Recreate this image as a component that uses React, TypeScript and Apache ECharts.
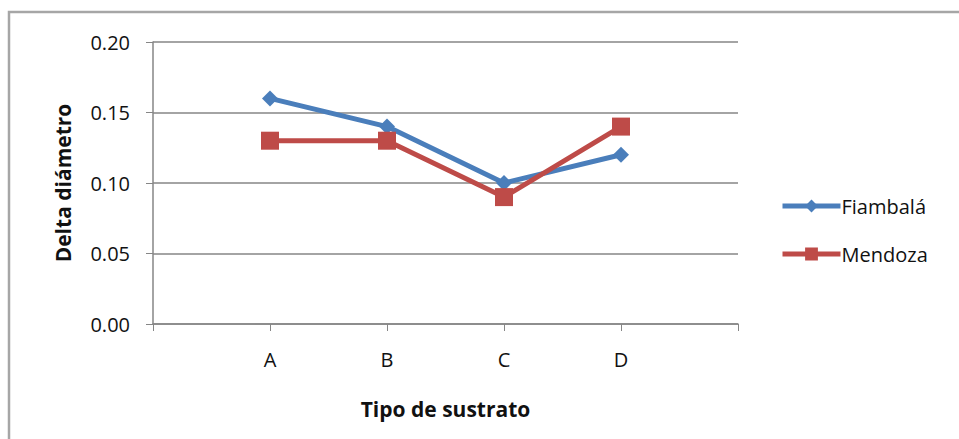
import React, { useEffect, useRef } from "react";
import * as echarts from "echarts";

const categories = ["A", "B", "C", "D"];
const fiambala = [0.16, 0.14, 0.1, 0.12];
const mendoza = [0.13, 0.13, 0.09, 0.14];
const yTicks = [0, 0.05, 0.1, 0.15, 0.2];

const FONT = "'Open Sans', Lato, sans-serif";

// Excel leaves an empty slot on each side of the categories
const axisData = ["", ...categories, ""];
const pad = (vals: number[]) => [null, ...vals, null];

const App: React.FC = () => {
  const chartRef = useRef<HTMLDivElement | null>(null);

  useEffect(() => {
    if (!chartRef.current) return;
    const chart = echarts.init(chartRef.current, undefined, { renderer: "svg" });
    chart.setOption({
      animation: false,
      backgroundColor: "#fff",
      textStyle: { fontFamily: FONT },
      graphic: [
        {
          type: "rect",
          shape: { x: 9, y: 12, width: 1000, height: 500 },
          style: { fill: "none", stroke: "#a6a6a6", lineWidth: 2.5 },
          silent: true,
        },
      ],
      grid: { left: 153, top: 42, right: 221, bottom: 115 },
      xAxis: {
        type: "category",
        boundaryGap: false,
        data: axisData,
        name: "Tipo de sustrato",
        nameLocation: "middle",
        nameGap: 74,
        nameTextStyle: { fontSize: 21, fontWeight: "bold", color: "#111", fontFamily: FONT },
        axisLine: { lineStyle: { color: "#868686", width: 1.5 } },
        axisTick: { show: true, inside: false, length: 7, alignWithLabel: true, interval: 0, lineStyle: { color: "#868686" } },
        axisLabel: { fontSize: 20, color: "#111", margin: 25, interval: 0 },
        splitLine: { show: false },
      },
      yAxis: {
        type: "value",
        min: yTicks[0],
        max: yTicks[yTicks.length - 1],
        interval: 0.05,
        name: "Delta diámetro",
        nameLocation: "middle",
        nameGap: 80,
        nameTextStyle: { fontSize: 21, fontWeight: "bold", color: "#111", fontFamily: FONT },
        axisLine: { show: true, lineStyle: { color: "#868686", width: 1.5 } },
        axisTick: { show: true, length: 7, lineStyle: { color: "#868686" } },
        axisLabel: { fontSize: 20, color: "#111", margin: 23, formatter: (v: number) => v.toFixed(2) },
        splitLine: { show: true, lineStyle: { color: "#868686", width: 1.5 } },
      },
      legend: {
        orient: "vertical",
        left: 775,
        top: 191,
        itemWidth: 58,
        itemHeight: 16,
        itemGap: 28,
        lineStyle: { width: 5 },
        textStyle: { fontSize: 20, color: "#111", fontFamily: FONT, padding: [0, 0, 0, -4] },
        data: ["Fiambalá", "Mendoza"],
      },
      series: [
        {
          name: "Fiambalá",
          type: "line",
          data: pad(fiambala),
          symbol: "diamond",
          symbolSize: 16,
          lineStyle: { color: "#4a7ebb", width: 5 },
          itemStyle: { color: "#4a7ebb" },
        },
        {
          name: "Mendoza",
          type: "line",
          data: pad(mendoza),
          symbol: "rect",
          symbolSize: 18,
          lineStyle: { color: "#be4b48", width: 5 },
          itemStyle: { color: "#be4b48" },
        },
      ],
    });
    return () => chart.dispose();
  }, []);

  return (
    <div style={{ position: "absolute", left: 0, top: 0, width: 959, height: 439, background: "#fff" }}>
      <div ref={chartRef} style={{ width: 959, height: 439 }} />
    </div>
  );
};

export default App;
